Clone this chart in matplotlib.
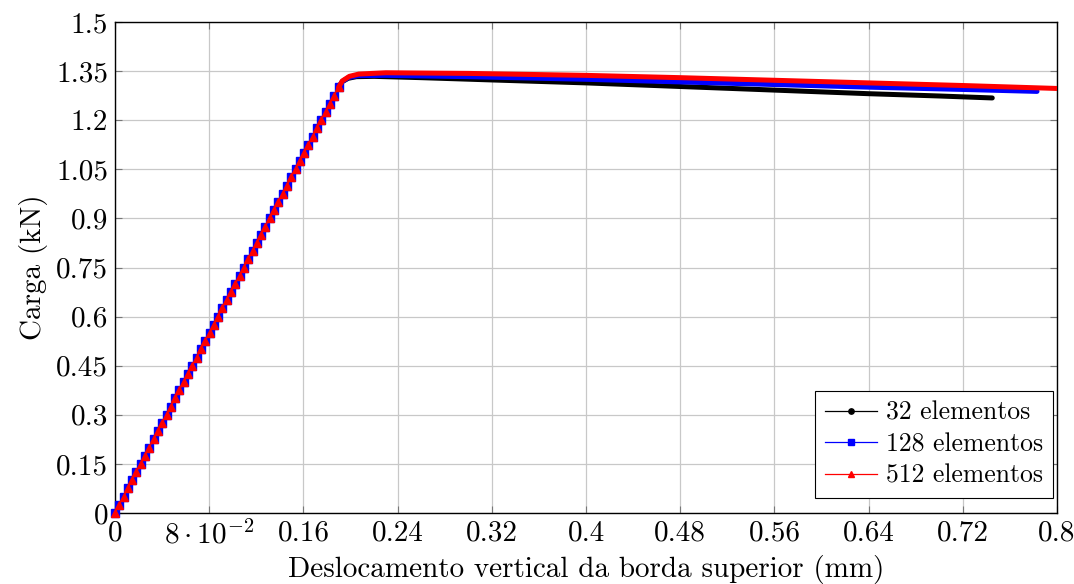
import matplotlib
matplotlib.use('Agg')
import matplotlib.pyplot as plt

# fonte parecida com LaTeX / pgfplots
plt.rcParams['font.family'] = 'serif'
plt.rcParams['font.serif'] = ['cmr10']
plt.rcParams['mathtext.fontset'] = 'cm'
plt.rcParams['axes.formatter.use_mathtext'] = True
plt.rcParams['font.size'] = 21

# trecho elastico (igual para as tres malhas)
lin_disp = [0.0, 0.0036, 0.0073, 0.0109, 0.0146, 0.0182, 0.0219, 0.0255, 0.0292, 0.0328,
            0.0365, 0.0401, 0.0438, 0.0474, 0.0511, 0.0547, 0.0584, 0.0620, 0.0657, 0.0693,
            0.0730, 0.0766, 0.0803, 0.0839, 0.0876, 0.0912, 0.0949, 0.0985, 0.1022, 0.1058,
            0.1095, 0.1131, 0.1168, 0.1204, 0.1241, 0.1277, 0.1314, 0.1350, 0.1387, 0.1423,
            0.1460, 0.1496, 0.1533, 0.1569, 0.1606, 0.1642, 0.1679, 0.1715, 0.1752, 0.1788,
            0.1825, 0.1861, 0.1898]
lin_load = [0.0, 0.025, 0.05, 0.075, 0.1, 0.125, 0.15, 0.175, 0.2, 0.225,
            0.25, 0.275, 0.3, 0.325, 0.35, 0.375, 0.4, 0.425, 0.45, 0.475,
            0.5, 0.525, 0.55, 0.575, 0.6, 0.625, 0.65, 0.675, 0.7, 0.725,
            0.75, 0.775, 0.8, 0.825, 0.85, 0.875, 0.9, 0.925, 0.95, 0.975,
            1.0, 1.025, 1.05, 1.075, 1.1, 1.125, 1.15, 1.175, 1.2, 1.225,
            1.25, 1.275, 1.3]

# trecho plastico de cada malha
disp_32 = [0.1898, 0.193, 0.198, 0.205, 0.22, 0.26, 0.32, 0.40, 0.48, 0.56, 0.64, 0.70, 0.745]
load_32 = [1.30, 1.318, 1.328, 1.333, 1.334, 1.330, 1.323, 1.314, 1.303, 1.292, 1.281, 1.274, 1.268]

disp_128 = [0.1898, 0.193, 0.198, 0.206, 0.23, 0.30, 0.40, 0.48, 0.56, 0.64, 0.72, 0.783]
load_128 = [1.30, 1.318, 1.330, 1.336, 1.337, 1.333, 1.325, 1.317, 1.309, 1.301, 1.294, 1.288]

disp_512 = [0.1898, 0.193, 0.199, 0.207, 0.23, 0.30, 0.40, 0.48, 0.56, 0.64, 0.72, 0.80]
load_512 = [1.30, 1.320, 1.334, 1.341, 1.345, 1.343, 1.337, 1.330, 1.322, 1.314, 1.306, 1.297]

series = [
    ('32 elementos', 'black', 'o', disp_32, load_32),
    ('128 elementos', 'blue', 's', disp_128, load_128),
    ('512 elementos', 'red', '^', disp_512, load_512),
]

x_ticks = [0, 0.08, 0.16, 0.24, 0.32, 0.4, 0.48, 0.56, 0.64, 0.72, 0.8]
x_labels = ['0', r'$8\cdot10^{-2}$', '0.16', '0.24', '0.32', '0.4', '0.48', '0.56', '0.64', '0.72', '0.8']
y_ticks = [0, 0.15, 0.3, 0.45, 0.6, 0.75, 0.9, 1.05, 1.2, 1.35, 1.5]
y_labels = ['0', '0.15', '0.3', '0.45', '0.6', '0.75', '0.9', '1.05', '1.2', '1.35', '1.5']

fig = plt.figure(figsize=(10.74, 5.84), dpi=100)
ax = fig.add_axes([0.1071, 0.1216, 0.8771, 0.8407])

for nome, cor, marca, dx, dy in series:
    ax.plot(lin_disp, lin_load, color=cor, marker=marca, markersize=5.5, lw=0.8,
            label=nome, zorder=3, clip_on=False)
    ax.plot(dx, dy, color=cor, lw=3.6, solid_capstyle='round', zorder=3)

ax.set_xlim(0, 0.8)
ax.set_ylim(0, 1.5)
ax.set_xticks(x_ticks)
ax.set_xticklabels(x_labels)
ax.set_yticks(y_ticks)
ax.set_yticklabels(y_labels)
ax.tick_params(direction='in', length=5, color='#777777', top=True, right=True, pad=5)
ax.grid(True, color='#c8c8c8', lw=0.9)
ax.set_axisbelow(True)
for s in ax.spines.values():
    s.set_linewidth(1.0)

ax.set_xlabel('Deslocamento vertical da borda superior (mm)', labelpad=4)
ax.set_ylabel('Carga (kN)', labelpad=6)

leg = ax.legend(loc='lower right', bbox_to_anchor=(0.9958, 0.0305), borderaxespad=0,
                fancybox=False, edgecolor='black', framealpha=1,
                handlelength=2.0, handletextpad=0.35,
                borderpad=0.4, labelspacing=0.3, markerscale=0.7, fontsize=18.5)
leg.get_frame().set_linewidth(0.8)
for l in leg.get_lines():
    l.set_linewidth(0.9)

fig.savefig('out.png', dpi=100)
